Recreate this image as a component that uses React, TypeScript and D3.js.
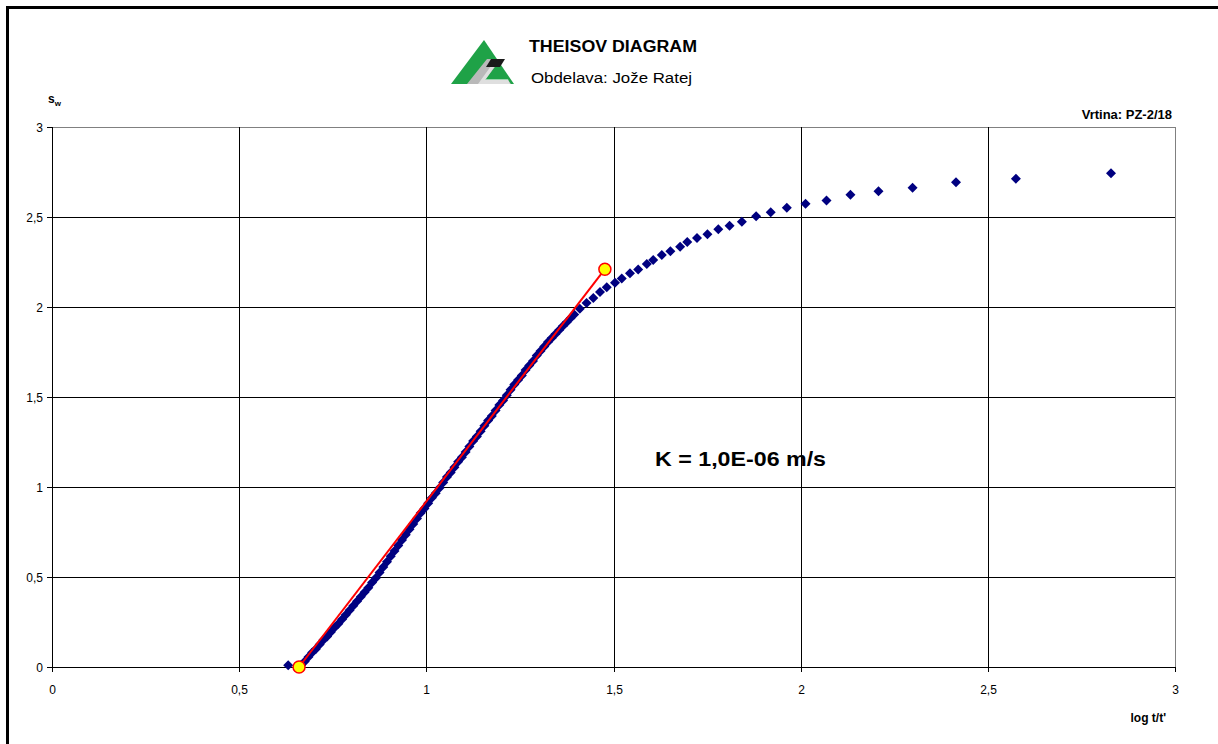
import React from "react";
import * as d3 from "d3";

// measured points, log t/t' vs s_w
const logT = [
  0.631, 0.665, 0.675, 0.685, 0.695, 0.705, 0.715, 0.725, 0.735, 0.745, 0.755,
  0.765, 0.775, 0.785, 0.795, 0.805, 0.815, 0.825, 0.835, 0.845, 0.855, 0.865,
  0.875, 0.885, 0.895, 0.905, 0.915, 0.925, 0.935, 0.945, 0.955, 0.965, 0.975,
  0.985, 0.995, 1.005, 1.015, 1.025, 1.035, 1.045, 1.055, 1.065, 1.075, 1.085,
  1.095, 1.105, 1.115, 1.125, 1.135, 1.145, 1.155, 1.165, 1.175, 1.185, 1.195,
  1.205, 1.215, 1.225, 1.235, 1.245, 1.255, 1.265, 1.275, 1.285, 1.295, 1.305,
  1.315, 1.325, 1.335, 1.345, 1.355, 1.365, 1.375, 1.385, 1.395, 1.41, 1.428,
  1.446, 1.464, 1.482, 1.504, 1.522, 1.544, 1.566, 1.589, 1.606, 1.629, 1.652,
  1.678, 1.697, 1.723, 1.751, 1.78, 1.81, 1.843, 1.881, 1.92, 1.963, 2.013,
  2.069, 2.133, 2.208, 2.299, 2.415, 2.575, 2.829,
];
const sw = [
  0.01, 0.01, 0.03, 0.055, 0.08, 0.1, 0.125, 0.15, 0.17, 0.195, 0.22, 0.24,
  0.265, 0.29, 0.315, 0.34, 0.365, 0.39, 0.415, 0.44, 0.47, 0.495, 0.525, 0.555,
  0.585, 0.615, 0.645, 0.675, 0.705, 0.735, 0.765, 0.795, 0.825, 0.855, 0.88,
  0.91, 0.94, 0.965, 0.995, 1.025, 1.055, 1.08, 1.11, 1.14, 1.165, 1.195, 1.225,
  1.255, 1.28, 1.31, 1.34, 1.37, 1.395, 1.425, 1.455, 1.48, 1.51, 1.54, 1.57,
  1.595, 1.62, 1.65, 1.675, 1.7, 1.73, 1.755, 1.78, 1.805, 1.828, 1.85, 1.872,
  1.894, 1.915, 1.937, 1.958, 1.99, 2.022, 2.05, 2.083, 2.11, 2.135, 2.159,
  2.187, 2.209, 2.239, 2.261, 2.289, 2.31, 2.335, 2.361, 2.383, 2.404, 2.432,
  2.452, 2.474, 2.504, 2.526, 2.552, 2.574, 2.592, 2.624, 2.643, 2.663, 2.693,
  2.713, 2.743,
];

// fitted straight line (two yellow points)
const fitX = [0.66, 1.477];
const fitY = [0.0, 2.21];

const xTicks = [0, 0.5, 1, 1.5, 2, 2.5, 3];
const yTicks = [0, 0.5, 1, 1.5, 2, 2.5, 3];

const font = "'Liberation Sans', Arial, Helvetica, sans-serif";
const fmt = (v: number) => String(v).replace(".", ",");

export default function App() {
  const W = 1218,
    H = 744;
  const x = d3.scaleLinear().domain([0, 3]).range([52, 1175]);
  const y = d3.scaleLinear().domain([0, 3]).range([667, 127]);

  const diamond = d3.symbol(d3.symbolSquare, 50)() as string;
  const fitLine = d3
    .line<number>()
    .x((d) => x(d))
    .y((_, i) => y(fitY[i]))(fitX) as string;

  const px = (v: number) => Math.round(x(v)) + 0.5;
  const py = (v: number) => Math.round(y(v)) + 0.5;

  return (
    <svg
      width={W}
      height={H}
      style={{ position: "absolute", left: 0, top: 0, background: "#fff" }}
      fontFamily={font}
    >
      <rect x={0} y={0} width={W} height={H} fill="#fff" />
      {/* outer frame */}
      <path d={`M7.5,${H} V7.5 H${W}`} fill="none" stroke="#000" strokeWidth={3} />

      {/* logo */}
      <g>
        <polygon points="451,84 484,40 514,84" fill="#1fa247" />
        <polygon points="467,84 487,59 501,59 485,80 508,80 511,84" fill="#b9b9b9" />
        <polygon points="478,84 491,66 495,66 486,79 508,79 510,84" fill="#fff" opacity={0.55} />
        <polygon points="491,59 505,59 500,67 486,67" fill="#1a1a1a" />
      </g>
      <text x={529} y={52} fontSize={16} fontWeight="bold" textLength={168} lengthAdjust="spacingAndGlyphs">
        THEISOV DIAGRAM
      </text>
      <text x={531} y={83} fontSize={14} textLength={161} lengthAdjust="spacingAndGlyphs">
        Obdelava: Jože Ratej
      </text>

      {/* gridlines */}
      {yTicks.map((t) => (
        <line key={"gy" + t} x1={x(0)} x2={x(3)} y1={py(t)} y2={py(t)} stroke={t === 3 ? "#808080" : "#000"} strokeWidth={1} />
      ))}
      {xTicks.map((t) => (
        <line key={"gx" + t} x1={px(t)} x2={px(t)} y1={y(0)} y2={y(3)} stroke={t === 3 ? "#808080" : "#000"} strokeWidth={1} />
      ))}

      {/* axes */}
      <line x1={px(0)} x2={px(0)} y1={y(0)} y2={y(3)} stroke="#000" />
      <line x1={x(0)} x2={x(3)} y1={py(0)} y2={py(0)} stroke="#000" />
      {yTicks.map((t) => (
        <g key={"ty" + t}>
          <line x1={x(0) - 5} x2={x(0)} y1={py(t)} y2={py(t)} stroke="#000" />
          <text x={43} y={py(t) + 4} fontSize={12} textAnchor="end">
            {fmt(t)}
          </text>
        </g>
      ))}
      {xTicks.map((t) => (
        <g key={"tx" + t}>
          <line x1={px(t)} x2={px(t)} y1={y(0)} y2={y(0) + 5} stroke="#000" />
          <text x={px(t)} y={694} fontSize={12} textAnchor="middle">
            {fmt(t)}
          </text>
        </g>
      ))}

      {/* axis titles */}
      <text x={48} y={103} fontSize={12} fontWeight="bold">
        s<tspan fontSize={8} dy={3}>w</tspan>
      </text>
      <text x={1166} y={722} fontSize={12} fontWeight="bold" textAnchor="end">
        log t/t'
      </text>
      <text x={1172} y={119} fontSize={13} fontWeight="bold" textAnchor="end">
        Vrtina: PZ-2/18
      </text>
      <text x={655} y={466} fontSize={21} fontWeight="bold" textLength={171} lengthAdjust="spacingAndGlyphs">
        K = 1,0E-06 m/s
      </text>

      {/* data */}
      {logT.map((v, i) => (
        <path
          key={"p" + i}
          d={diamond}
          transform={`translate(${x(v)},${y(sw[i])}) rotate(45)`}
          fill="#000080"
        />
      ))}

      {/* fit line */}
      <path d={fitLine} fill="none" stroke="#ff0000" strokeWidth={2} />
      {fitX.map((v, i) => (
        <circle key={"c" + i} cx={x(v)} cy={y(fitY[i])} r={6} fill="#ffff00" stroke="#ff0000" strokeWidth={1.5} />
      ))}
    </svg>
  );
}
